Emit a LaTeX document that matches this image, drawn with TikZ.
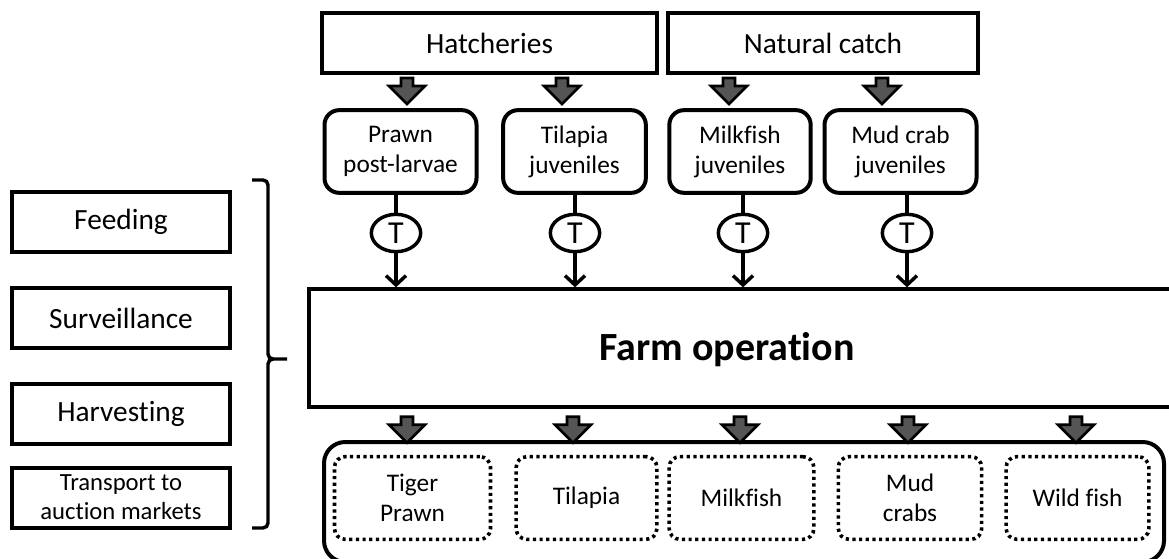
\documentclass[tikz,border=0pt]{standalone}
\usepackage{fontspec}
\setmainfont{Carlito}[Ligatures=NoCommon]
\usetikzlibrary{arrows.meta,shapes.geometric,calc}
\definecolor{arrgray}{RGB}{85,85,85}
\begin{document}
\begin{tikzpicture}[x=0.75pt,y=-0.75pt,
  srcbox/.style={draw, line width=3pt, minimum height=45pt, inner sep=0pt, font=\fontsize{22}{26}\selectfont},
  juvbox/.style={draw, line width=3pt, rounded corners=11pt, minimum height=62pt, inner sep=0pt, align=center, font=\fontsize{19}{22.5}\selectfont},
  actbox/.style={draw, line width=3pt, minimum width=163.5pt, minimum height=45pt, inner sep=0pt, align=center, font=\fontsize{22}{26}\selectfont},
  smallact/.style={font=\fontsize{18.5}{22}\selectfont},
  prodbox/.style={draw, line width=2.7pt, dash pattern=on 2.4pt off 2.6pt, rounded corners=8pt, minimum height=62pt, inner sep=0pt, align=center, font=\fontsize{19}{22.5}\selectfont},
  tnode/.style={ellipse, draw, line width=2.6pt, minimum width=37pt, minimum height=28pt, inner sep=0pt, font=\fontsize{24}{28}\selectfont},
  link/.style={line width=2.6pt},
  flow/.style={line width=2.6pt, -{Straight Barb[length=7pt,width=15pt]}},
  dnarr/.pic={\draw[line width=2pt, fill=arrgray, line join=miter] (-6,0) -- (6,0) -- (6,8) -- (18,8) -- (0,26) -- (-18,8) -- (-6,8) -- cycle;},
  bracepath/.style={line width=2.6pt}
]
\useasboundingbox (0,0) rectangle (1169,559);

% sources
\node[srcbox, minimum width=251.25pt] (hatch) at (489.5,43) {Hatcheries};
\node[srcbox, minimum width=232.5pt] (natural) at (823,43) {Natural catch};

% juveniles
\node[juvbox, minimum width=114pt] (prawnj) at (400.5,151.5) {Prawn\\post-larvae};
\node[juvbox, minimum width=107pt] (tilapiaj) at (574.5,151.5) {Tilapia\\juveniles};
\node[juvbox, minimum width=106pt] (milkj) at (740,151.5) {Milkfish\\juveniles};
\node[juvbox, minimum width=114pt] (crabj) at (900.5,151.5) {Mud crab\\juveniles};

% block arrows from sources
\pic at ($(hatch.south)+(-82.5,3)$) {dnarr};
\pic at ($(hatch.south)+(72.5,3)$) {dnarr};
\pic at ($(natural.south)+(-94,3)$) {dnarr};
\pic at ($(natural.south)+(59,3)$) {dnarr};

% farm operation
\node[draw, line width=3pt, minimum width=646.5pt, minimum height=88pt, inner sep=0pt] (farm) at (740,348) {};
\node[font=\bfseries\fontsize{30}{35}\selectfont] (farmtxt) at (727,350) {Farm operation};

% transport T nodes
\node[tnode] (t1) at (396,233) {T};
\node[tnode] (t2) at (575,233) {T};
\node[tnode] (t3) at (743,233) {T};
\node[tnode] (t4) at (907,233) {T};

\draw[link] (t1 |- prawnj.south) -- (t1.north);
\draw[link] (t2 |- tilapiaj.south) -- (t2.north);
\draw[link] (t3 |- milkj.south) -- (t3.north);
\draw[link] (t4 |- crabj.south) -- (t4.north);
\draw[flow] (t1.south) -- (t1 |- farm.north);
\draw[flow] (t2.south) -- (t2 |- farm.north);
\draw[flow] (t3.south) -- (t3 |- farm.north);
\draw[flow] (t4.south) -- (t4 |- farm.north);

% activities
\node[actbox] (feed) at (121,222) {Feeding};
\node[actbox] (surv) at (121,318) {Surveillance};
\node[actbox] (harv) at (121,413.5) {Harvesting};
\node[actbox, smallact] (trans) at (121,497.5) {Transport to\\auction markets};

% brace
\coordinate (btop) at (268,180);
\coordinate (bmid) at (287,359);
\coordinate (bbot) at (268,528);
\draw[bracepath] (252,180) -- (263,180) to[out=0,in=90] (btop |- 0,185) -- (btop |- 0,354) to[out=-90,in=180] (273,359) -- (bmid);
\draw[bracepath] (273,359) to[out=180,in=90] (btop |- 0,364) -- (bbot |- 0,523) to[out=-90,in=0] (263,528) -- (252,528);

% products
\node[draw, line width=3pt, rounded corners=16pt, minimum width=630pt, minimum height=90pt, inner sep=0pt] (market) at (744,502) {};
\node[prodbox, minimum width=117pt] (ptiger) at (412.5,498) {Tiger\\Prawn};
\node[prodbox, minimum width=105.5pt] (ptilapia) at (586.5,498) {Tilapia};
\node[prodbox, minimum width=108.5pt] (pmilk) at (741.5,498) {Milkfish};
\node[prodbox, minimum width=107.5pt] (pcrab) at (910,498) {Mud\\crabs};
\node[prodbox, minimum width=107pt] (pwild) at (1077.5,498) {Wild fish};

% block arrows from farm
\pic at ($(farm.south)+(-333,8)$) {dnarr};
\pic at ($(farm.south)+(-167,8)$) {dnarr};
\pic at ($(farm.south)+(0,8)$) {dnarr};
\pic at ($(farm.south)+(168,8)$) {dnarr};
\pic at ($(farm.south)+(336,8)$) {dnarr};
\end{tikzpicture}
\end{document}
